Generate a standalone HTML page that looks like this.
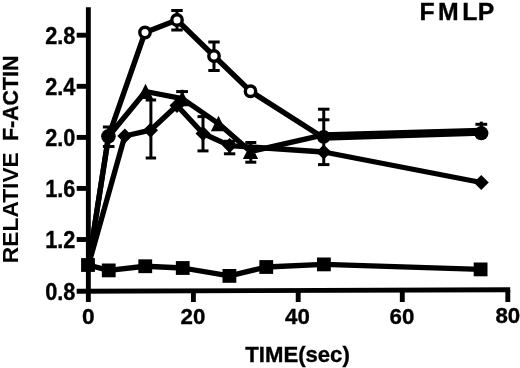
<!DOCTYPE html>
<html><head><meta charset="utf-8"><title>FMLP</title>
<style>html,body{margin:0;padding:0;background:#fff}body{width:520px;height:368px;overflow:hidden}</style>
</head><body>
<svg width="520" height="368" viewBox="0 0 520 368" style="display:block">
<rect width="520" height="368" fill="#fff"/>
<g stroke="#000" stroke-width="4.9" fill="none" stroke-linecap="butt">
<path d="M88.35,7.3V302"/>
<path d="M76.7,291.2L510.2,289.7"/>
<path d="M76.7,35.2H88"/>
<path d="M76.7,86.3H88"/>
<path d="M76.7,137.4H88"/>
<path d="M76.7,188.4H88"/>
<path d="M76.7,239.5H88"/>
<path d="M193.4,290V302"/>
<path d="M298.2,290V302"/>
<path d="M402.3,290V302"/>
<path d="M507.8,290V302"/>
</g>
<g stroke="#000" stroke-width="3.0" fill="none">
<path d="M108.7,127V146.5"/>
<path d="M102.9,127H114.5"/>
<path d="M102.9,146.5H114.5"/>
<path d="M177,10.5V30"/>
<path d="M171.3,10.5H182.7"/>
<path d="M171.3,30H182.7"/>
<path d="M214,42V70.5"/>
<path d="M208.3,42H219.7"/>
<path d="M208.3,70.5H219.7"/>
<path d="M150.9,100V158"/>
<path d="M145.70000000000002,100H156.1"/>
<path d="M145.70000000000002,158H156.1"/>
<path d="M182.1,89.8V100"/>
<path d="M176.2,91.6H188.0"/>
<path d="M203,116.6V150.9"/>
<path d="M197.5,116.6H208.5"/>
<path d="M197.5,150.9H208.5"/>
<path d="M229.6,141.3V153.8"/>
<path d="M223.9,141.3H235.29999999999998"/>
<path d="M223.9,153.8H235.29999999999998"/>
<path d="M250.8,142.5V162.2"/>
<path d="M245.3,142.5H256.3"/>
<path d="M245.3,162.2H256.3"/>
<path d="M323.75,109.2V164.6"/>
<path d="M318.05,109.2H329.45"/>
<path d="M318.05,119.8H329.45"/>
<path d="M318.05,164.6H329.45"/>
<path d="M481.3,121.6V132"/>
<path d="M475.40000000000003,124.3H487.2"/>
</g>
<g stroke="#000" stroke-width="5.3" fill="none" stroke-linejoin="round">
<polyline points="88.5,265 108.5,136.5 145,32.5 177,20 214,56 250.5,91.25 323.75,138.0 481.25,133.0"/>
<polyline points="88.5,265 108.5,136.5 145.5,91.5 182.3,98.6 218.5,123.6 250.5,151.5 323.75,134.8 481.25,130.3"/>
<polyline points="88.5,265 124.8,136 150.5,130.2 177,105.5 203,133.5 229.6,145.6 323.75,152.0 481.25,182.5"/>
<polyline points="88,265 108.75,270.4 145.25,266.25 182.75,268 229.4,275.9 266.25,267 323.9,264.4 480.6,269.4"/>
</g>
<g fill="#000">
<rect x="81.1" y="258.1" width="13.8" height="13.8"/>
<rect x="101.85" y="263.5" width="13.8" height="13.8"/>
<rect x="138.35" y="259.35" width="13.8" height="13.8"/>
<rect x="175.85" y="261.1" width="13.8" height="13.8"/>
<rect x="222.5" y="269.0" width="13.8" height="13.8"/>
<rect x="259.35" y="260.1" width="13.8" height="13.8"/>
<rect x="317.0" y="257.5" width="13.8" height="13.8"/>
<rect x="473.70000000000005" y="262.5" width="13.8" height="13.8"/>
<path d="M124.8,128.5L132.3,136L124.8,143.5L117.3,136Z"/>
<path d="M150.5,122.69999999999999L158.0,130.2L150.5,137.7L143.0,130.2Z"/>
<path d="M177,98.0L184.5,105.5L177,113.0L169.5,105.5Z"/>
<path d="M203,126.0L210.5,133.5L203,141.0L195.5,133.5Z"/>
<path d="M229.6,138.1L237.1,145.6L229.6,153.1L222.1,145.6Z"/>
<path d="M323.75,144.5L331.25,152.0L323.75,159.5L316.25,152.0Z"/>
<path d="M481.25,175.0L488.75,182.5L481.25,190.0L473.75,182.5Z"/>
<path d="M145.5,83.7L153.1,99.1L137.9,99.1Z"/>
<path d="M182.3,90.8L189.9,106.19999999999999L174.70000000000002,106.19999999999999Z"/>
<path d="M218.5,115.8L226.1,131.2L210.9,131.2Z"/>
<path d="M250.5,143.7L258.1,159.1L242.9,159.1Z"/>
<circle cx="108.4" cy="136.3" r="7.3"/>
<circle cx="481.3" cy="133.2" r="7.1"/>
<circle cx="323.6" cy="136.8" r="6.9"/>
</g>
<g fill="#fff" stroke="#000" stroke-width="3.4">
<circle cx="145" cy="32.5" r="5.2"/>
<circle cx="177" cy="20" r="5.2"/>
<circle cx="214" cy="56" r="5.2"/>
<circle cx="250.5" cy="91.25" r="5.2"/>
</g>
<g font-family="'Liberation Sans',sans-serif" font-weight="bold" fill="#000" stroke="#000" stroke-width="0.35" font-size="23">
<text x="45.2" y="44.0" textLength="30.2" lengthAdjust="spacingAndGlyphs">2.8</text>
<text x="45.2" y="95.1" textLength="30.2" lengthAdjust="spacingAndGlyphs">2.4</text>
<text x="45.2" y="146.2" textLength="30.2" lengthAdjust="spacingAndGlyphs">2.0</text>
<text x="45.2" y="197.2" textLength="30.2" lengthAdjust="spacingAndGlyphs">1.6</text>
<text x="45.2" y="248.3" textLength="30.2" lengthAdjust="spacingAndGlyphs">1.2</text>
<text x="45.2" y="299.6" textLength="30.2" lengthAdjust="spacingAndGlyphs">0.8</text>
<text x="82" y="324.2" font-size="22.2" textLength="12.6" lengthAdjust="spacingAndGlyphs">0</text>
<text x="180.6" y="324.0" font-size="22.2" textLength="24.8" lengthAdjust="spacingAndGlyphs">20</text>
<text x="285.1" y="323.8" font-size="22.2" textLength="24.8" lengthAdjust="spacingAndGlyphs">40</text>
<text x="389.6" y="323.6" font-size="22.2" textLength="24.8" lengthAdjust="spacingAndGlyphs">60</text>
<text x="495.4" y="323.4" font-size="22.2" textLength="24.8" lengthAdjust="spacingAndGlyphs">80</text>
<text x="245.3" y="361.8" font-size="22.4" textLength="104.5" lengthAdjust="spacingAndGlyphs">TIME(sec)</text>
<text transform="translate(18.3,263.2) rotate(-90)" font-size="21.7" textLength="111" lengthAdjust="spacingAndGlyphs" stroke-width="0">RELATIVE</text>
<text transform="translate(18.3,141) rotate(-90)" font-size="21.7" textLength="85.3" lengthAdjust="spacingAndGlyphs">F-ACTIN</text>
</g>
<text font-family="'Liberation Sans',sans-serif" font-weight="bold" fill="#000" stroke="#000" stroke-width="0.35" font-size="24.8" x="419.4 438 462.2 477.8" y="19.7">FMLP</text>
</svg>
</body></html>
